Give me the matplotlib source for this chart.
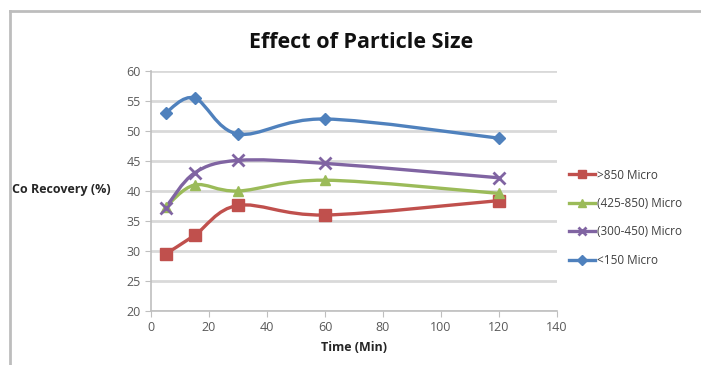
import matplotlib.pyplot as plt
from matplotlib.path import Path
from matplotlib.patches import PathPatch
from matplotlib.lines import Line2D

plt.rcParams['font.family'] = ['Open Sans', 'DejaVu Sans']

# sampling times (min)
time_min = [5, 15, 30, 60, 120]

# Co recovery (%) per particle size
rec_gt850 = [29.5, 32.6, 37.6, 36.0, 38.4]
rec_425_850 = [37.3, 41.0, 40.0, 41.8, 39.6]
rec_300_450 = [37.2, 43.0, 45.1, 44.6, 42.2]
rec_lt150 = [53.0, 55.5, 49.5, 52.0, 48.8]

labels = ['>850 Micro', '(425-850) Micro', '(300-450) Micro', '<150 Micro']
series = [rec_gt850, rec_425_850, rec_300_450, rec_lt150]
colors = ['#C0504D', '#9BBB59', '#8064A2', '#4F81BD']
markers = ['s', '^', 'x', 'D']
msizes = [8, 7, 8, 6]


def smooth_path(xs, ys):
    # Bezier segments through every point (Catmull-Rom style control points)
    pts = list(zip(xs, ys))
    n = len(pts)
    verts = [pts[0]]
    codes = [Path.MOVETO]
    for i in range(n - 1):
        p0 = pts[i - 1] if i > 0 else pts[i]
        p1 = pts[i]
        p2 = pts[i + 1]
        p3 = pts[i + 2] if i + 2 < n else pts[i + 1]
        c1 = (p1[0] + (p2[0] - p0[0]) / 6, p1[1] + (p2[1] - p0[1]) / 6)
        c2 = (p2[0] - (p3[0] - p1[0]) / 6, p2[1] - (p3[1] - p1[1]) / 6)
        verts += [c1, c2, p2]
        codes += [Path.CURVE4] * 3
    return Path(verts, codes)


fig = plt.figure(figsize=(7.01, 3.65), dpi=100)
ax = fig.add_axes([151 / 701, 1 - 311 / 365, (557 - 151) / 701, (311 - 71) / 365])

for ys, lab, c, m, ms in zip(series, labels, colors, markers, msizes):
    ax.add_patch(PathPatch(smooth_path(time_min, ys), fill=False, edgecolor=c, lw=2.4, zorder=3))
    ax.plot(time_min, ys, linestyle='none', marker=m, ms=ms, color=c,
            mec=c, mew=2 if m == 'x' else 1, zorder=4)

ax.set_xlim(0, 140)
ax.set_ylim(20, 60)
ax.set_xticks(range(0, 141, 20))
ax.set_yticks(range(20, 61, 5))
ax.grid(axis='y', color='#d9d9d9', lw=2)
ax.set_axisbelow(True)
for s in ['top', 'right']:
    ax.spines[s].set_visible(False)
for s in ['left', 'bottom']:
    ax.spines[s].set_color('#bfbfbf')
    ax.spines[s].set_linewidth(1.2)
ax.tick_params(colors='#bfbfbf', labelcolor='#595959', labelsize=9, length=4)

ax.set_xlabel('Time (Min)', fontsize=9, fontweight='bold', labelpad=5, color='#262626')
fig.text(12 / 701, 1 - 190 / 365, 'Co Recovery (%)', fontsize=9, fontweight='bold',
         ha='left', va='center', color='#262626')
fig.text(361 / 701, 1 - 43 / 365, 'Effect of Particle Size', fontsize=15.5,
         fontweight='bold', ha='center', va='center', color='#111111')

handles = [Line2D([0], [0], color=c, lw=2.4, marker=m, ms=ms * 0.8, mew=2 if m == 'x' else 1)
           for c, m, ms in zip(colors, markers, msizes)]
fig.legend(handles, labels, loc='upper left', bbox_to_anchor=(558 / 701, 1 - 158 / 365),
           frameon=False, fontsize=8.5, handlelength=2.2, handletextpad=0.2,
           labelspacing=1.3, labelcolor='#404040')

# outer chart frame
fig.add_artist(Line2D([10 / 701, 1], [1 - 11 / 365] * 2, color='#bdbdbd', lw=2))
fig.add_artist(Line2D([10 / 701] * 2, [0, 1 - 11 / 365], color='#bdbdbd', lw=2))

fig.savefig('out.png', dpi=100)
